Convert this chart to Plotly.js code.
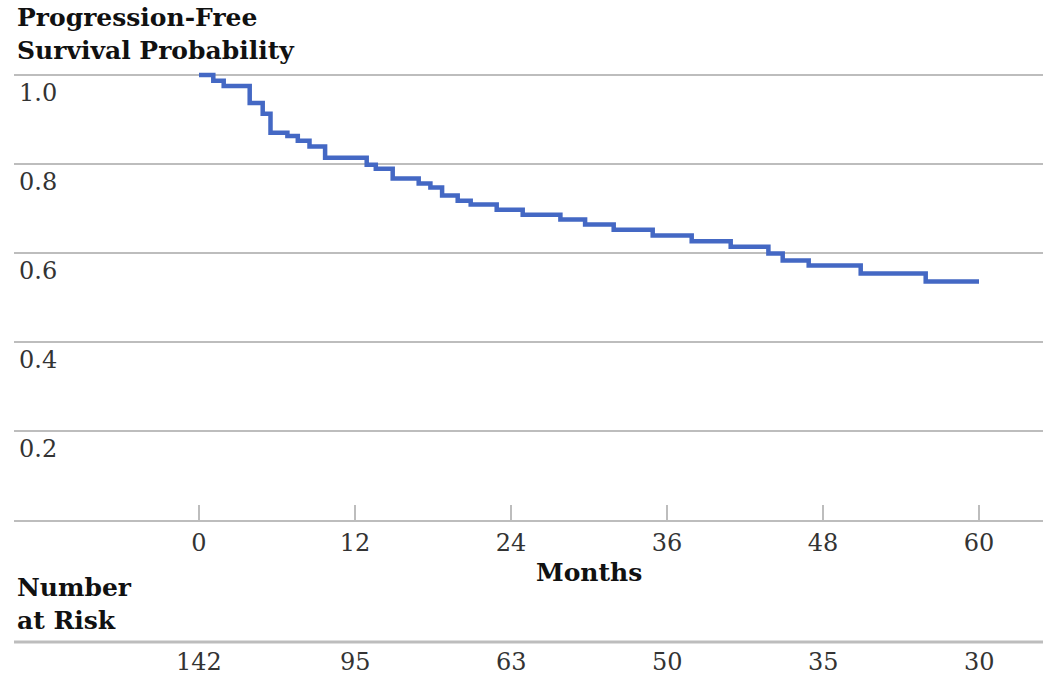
<!DOCTYPE html>
<html>
<head>
<meta charset="utf-8">
<script src="https://cdn.plot.ly/plotly-3.0.1.min.js"></script>
<style>
  html, body { margin: 0; padding: 0; background: #ffffff; }
  #chart { width: 1043px; height: 675px; }
</style>
</head>
<body>
<div id="chart"></div>
<script>
// Kaplan-Meier progression-free survival
const months = [0, 1.1, 1.9, 3.9, 4.9, 5.5, 6.8, 7.6, 8.5, 9.7, 12.9, 13.6, 14.9, 16.9, 17.8, 18.7,
                19.9, 20.9, 22.9, 24.9, 27.8, 29.7, 31.9, 34.9, 37.9, 40.9, 43.8, 44.9, 46.9, 50.9, 55.9, 60];
const survival = [1.0, 0.987, 0.975, 0.937, 0.913, 0.870, 0.863, 0.852, 0.839, 0.814, 0.798, 0.789, 0.767, 0.756, 0.747, 0.729,
                  0.717, 0.709, 0.697, 0.686, 0.675, 0.664, 0.652, 0.639, 0.626, 0.614, 0.599, 0.583, 0.572, 0.554, 0.536, 0.536];

// Axis ticks
const xTicks = [0, 12, 24, 36, 48, 60];
const yTicks = [0.2, 0.4, 0.6, 0.8, 1.0];
const yTickLabels = ["0.2", "0.4", "0.6", "0.8", "1.0"];

// Number at risk
const atRiskMonths = [0, 12, 24, 36, 48, 60];
const atRisk = [142, 95, 63, 50, 35, 30];

// Text
const yTitleLines = ["Progression-Free", "Survival Probability"];
const riskTitleLines = ["Number", "at Risk"];
const xTitle = "Months";

const numFont = { family: "DejaVu Serif", size: 24, color: "#333333" };
const boldFont = { family: "DejaVu Serif", size: 25, color: "#111111", weight: 700 };
const gridColor = "#bdbdbd";

// layout geometry helpers (plot area: y from 66px to 520px)
const plotTop = 66, plotBottom = 520;
const py = p => (plotBottom - p) / (plotBottom - plotTop);

const annotations = [];
annotations.push({
  text: yTitleLines.map(t => "<b>" + t + "</b>").join("<br>"),
  xref: "paper", yref: "paper", x: 0.001, y: py(34),
  xanchor: "left", yanchor: "middle", align: "left",
  showarrow: false, font: boldFont
});
annotations.push({
  text: riskTitleLines.map(t => "<b>" + t + "</b>").join("<br>"),
  xref: "paper", yref: "paper", x: 0.001, y: py(604),
  xanchor: "left", yanchor: "middle", align: "left",
  showarrow: false, font: boldFont
});
// x-axis title, centred on the middle of the month scale
annotations.push({
  text: "<b>" + xTitle + "</b>", xref: "x", yref: "paper",
  x: (xTicks[0] + xTicks[xTicks.length - 1]) / 2, y: py(572),
  xanchor: "center", yanchor: "middle", showarrow: false, font: boldFont
});
atRiskMonths.forEach((m, i) => {
  annotations.push({
    text: String(atRisk[i]), xref: "x", yref: "paper",
    x: m, y: py(662), xanchor: "center", yanchor: "middle",
    showarrow: false, font: numFont
  });
});

const trace = {
  x: months, y: survival, type: "scatter", mode: "lines",
  line: { shape: "hv", color: "#4468c4", width: 4.5 },
  cliponaxis: false, hoverinfo: "x+y", showlegend: false
};

const layout = {
  width: 1043, height: 675,
  margin: { l: 14, r: 0, t: plotTop, b: 675 - plotBottom, pad: 0 },
  paper_bgcolor: "#ffffff", plot_bgcolor: "#ffffff",
  showlegend: false,
  xaxis: {
    range: [-185 / 13, 844 / 13],
    tickvals: xTicks, ticktext: xTicks.map(String),
    showgrid: false, zeroline: false,
    showline: true, linecolor: gridColor, linewidth: 2,
    ticks: "inside", ticklen: 15, tickwidth: 2, tickcolor: gridColor,
    tickfont: numFont, ticklabelstandoff: 0,
    automargin: false, fixedrange: true
  },
  yaxis: {
    range: [0, 1.02],
    tickvals: yTicks, ticktext: yTickLabels,
    showgrid: true, gridcolor: gridColor, gridwidth: 2,
    zeroline: false, showline: false, ticks: "",
    ticklabelposition: "inside", ticklabelshift: 18, ticklabelstandoff: 2,
    tickfont: numFont, automargin: false, fixedrange: true
  },
  shapes: [{
    type: "line", xref: "paper", yref: "paper",
    x0: 0, x1: 1, y0: py(642), y1: py(642),
    line: { color: gridColor, width: 3 }
  }],
  annotations: annotations
};

Plotly.newPlot("chart", [trace], layout, { displayModeBar: false, staticPlot: true });
</script>
</body>
</html>
